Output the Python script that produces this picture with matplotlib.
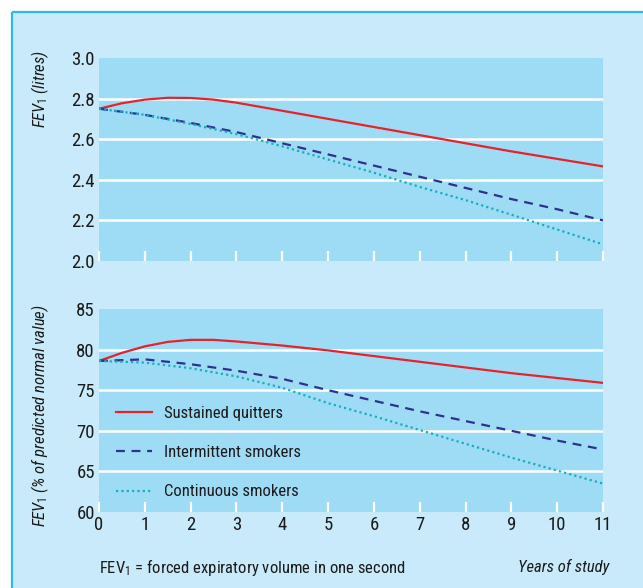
import matplotlib
matplotlib.use("Agg")
import matplotlib.pyplot as plt
from matplotlib.patches import Rectangle

FONT = ['Roboto Condensed', 'Liberation Sans', 'DejaVu Sans']
plt.rcParams['font.family'] = FONT
plt.rcParams['mathtext.fontset'] = 'custom'
plt.rcParams['mathtext.rm'] = 'Roboto Condensed'
plt.rcParams['mathtext.it'] = 'Roboto Condensed:italic'

# ---- data ----
years_q = [0, 0.5, 1, 1.5, 2, 2.5, 3, 4, 5, 6, 7, 8, 9, 10, 11]
years = [0, 1, 2, 3, 4, 5, 6, 7, 8, 9, 10, 11]

litres_quitters = [2.75, 2.777, 2.795, 2.804, 2.803, 2.795, 2.78, 2.74, 2.70, 2.66, 2.62, 2.58, 2.54, 2.503, 2.466]
litres_intermittent = [2.75, 2.72, 2.68, 2.635, 2.58, 2.525, 2.47, 2.415, 2.36, 2.305, 2.255, 2.20]
litres_continuous = [2.75, 2.72, 2.675, 2.625, 2.565, 2.50, 2.435, 2.365, 2.30, 2.228, 2.155, 2.082]

pct_quitters = [78.6, 79.6, 80.4, 80.95, 81.2, 81.2, 81.0, 80.5, 79.9, 79.2, 78.5, 77.8, 77.1, 76.5, 75.9]
pct_intermittent = [78.6, 78.8, 78.2, 77.4, 76.4, 75.0, 73.7, 72.4, 71.2, 70.0, 68.8, 67.7]
pct_continuous = [78.6, 78.4, 77.7, 76.7, 75.3, 73.4, 71.8, 70.1, 68.4, 66.7, 65.1, 63.5]

series_names = ["Sustained quitters", "Intermittent smokers", "Continuous smokers"]
x_ticks = list(range(0, 12))
top_yticks = [2.0, 2.2, 2.4, 2.6, 2.8, 3.0]
bot_yticks = [60, 65, 70, 75, 80, 85]

# ---- styles ----
PANEL = "#C8EAFA"
AXBG = "#9EDCF6"
BORDER = "#2BBBEB"
RED = "#E8222B"
NAVY = "#2E3192"
CYAN = "#16AEC2"
TXT = "#1A1A1A"
FS = 12
TICKFS = 13.5

W, H = 643, 588
fig = plt.figure(figsize=(W / 100, H / 100), dpi=100)
fig.patch.set_facecolor("white")

# outer panel as a background axes
bg = fig.add_axes([0, 0, 1, 1], zorder=-5)
bg.set_xlim(0, W)
bg.set_ylim(H, 0)
bg.axis("off")
bg.add_patch(Rectangle((12, 12), W - 12, H - 12, facecolor=PANEL, edgecolor="none"))
bg.plot([12, W], [12, 12], color=BORDER, lw=1.6, solid_capstyle="butt")
bg.plot([12, 12], [12, H], color=BORDER, lw=1.6, solid_capstyle="butt")

left = 99 / W
width = 504 / W
ax1 = fig.add_axes([left, 1 - 261 / H, width, 203 / H])
ax2 = fig.add_axes([left, 1 - 512 / H, width, 203 / H])

styles = [dict(color=RED, lw=1.6, ls="-"),
          dict(color=NAVY, lw=1.6, ls=(0, (4, 3))),
          dict(color=CYAN, lw=1.6, ls=(0, (1, 1.4)))]


def style_axes(ax, yticks):
    ax.set_facecolor(AXBG)
    for s in ax.spines.values():
        s.set_visible(False)
    ax.set_xlim(0, 11)
    ax.set_ylim(yticks[0], yticks[-1])
    ax.set_yticks(yticks)
    for y in yticks[1:-1]:
        ax.axhline(y, color="white", lw=1.8, zorder=1)
    ax.set_xticks(x_ticks)
    ax.tick_params(axis="x", direction="in", length=7, width=1.6, color="white", pad=3)
    ax.tick_params(axis="y", length=0, pad=3, labelsize=TICKFS, labelcolor=TXT)


style_axes(ax1, top_yticks)
style_axes(ax2, bot_yticks)
ax1.set_yticklabels([f"{v:.1f}" for v in top_yticks])
ax1.set_xticklabels([])
ax2.set_yticklabels([str(v) for v in bot_yticks])
ax2.set_xticklabels([str(v) for v in x_ticks], fontsize=TICKFS, color=TXT)

ax1.plot(years_q, litres_quitters, zorder=3, **styles[0])
ax1.plot(years, litres_intermittent, zorder=3, **styles[1])
ax1.plot(years, litres_continuous, zorder=3, **styles[2])

h1, = ax2.plot(years_q, pct_quitters, zorder=3, label=series_names[0], **styles[0])
h2, = ax2.plot(years, pct_intermittent, zorder=3, label=series_names[1], **styles[1])
h3, = ax2.plot(years, pct_continuous, zorder=3, label=series_names[2], **styles[2])

leg = ax2.legend(handles=[h1, h2, h3], loc="lower left", bbox_to_anchor=(0.0, -0.02),
                 frameon=False, fontsize=FS, handlelength=2.2, handletextpad=0.7,
                 labelspacing=1.45, borderaxespad=0.6)
for t in leg.get_texts():
    t.set_color(TXT)

fig.text(40 / W, 1 - 50 / H, r"$\mathit{FEV}_{\mathit{1}}$ (litres)", fontsize=FS,
         style="italic", color=TXT, rotation=90, ha="center", va="top")
fig.text(40 / W, 1 - 416 / H, r"$\mathit{FEV}_{\mathit{1}}$ (% of predicted normal value)",
         fontsize=FS, style="italic", color=TXT, rotation=90, ha="center", va="center")

fig.text(99 / W, 1 - 567 / H, r"FEV$_{\mathit{1}}$ = forced expiratory volume in one second",
         fontsize=FS, color=TXT, va="center", ha="left")
fig.text(609 / W, 1 - 567 / H, "Years of study", fontsize=FS, style="italic",
         color=TXT, va="center", ha="right")

fig.savefig("out.png", dpi=100, facecolor=fig.get_facecolor())
